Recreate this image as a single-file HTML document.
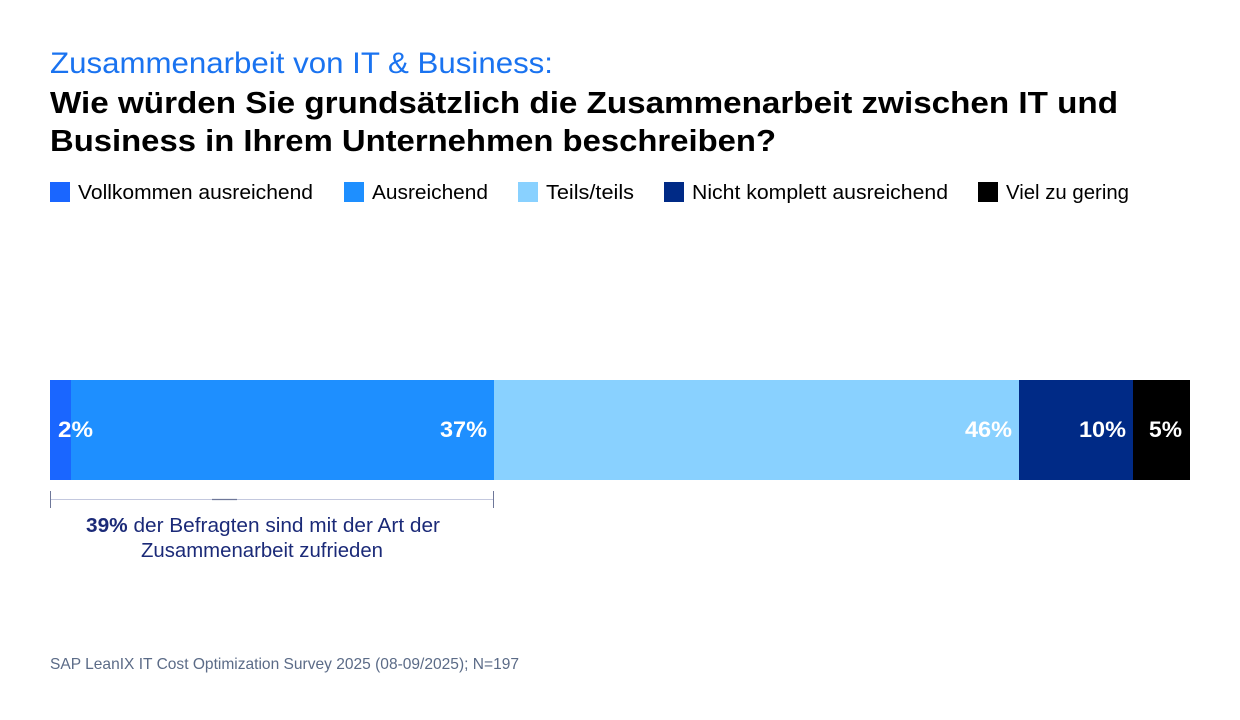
<!DOCTYPE html>
<html>
<head>
<meta charset="utf-8">
<style>
html,body{margin:0;padding:0;background:#fff;}
svg{display:block;}
text{font-family:"Liberation Sans", sans-serif;}
</style>
</head>
<body>
<svg width="1240" height="720" viewBox="0 0 1240 720" xmlns="http://www.w3.org/2000/svg">
<rect width="1240" height="720" fill="#ffffff"/>
<!-- Titles -->
<text x="50" y="73" font-size="30" fill="#1a73f0" textLength="503" lengthAdjust="spacingAndGlyphs">Zusammenarbeit von IT &amp; Business:</text>
<text x="50" y="113" font-size="31" font-weight="bold" fill="#000" textLength="1068" lengthAdjust="spacingAndGlyphs">Wie würden Sie grundsätzlich die Zusammenarbeit zwischen IT und</text>
<text x="50" y="151" font-size="31" font-weight="bold" fill="#000" textLength="726" lengthAdjust="spacingAndGlyphs">Business in Ihrem Unternehmen beschreiben?</text>

<!-- Legend -->
<rect x="50" y="182" width="20" height="20" fill="#1a66ff"/>
<text x="78" y="199" font-size="20" fill="#000" textLength="235" lengthAdjust="spacingAndGlyphs">Vollkommen ausreichend</text>
<rect x="344" y="182" width="20" height="20" fill="#1e8fff"/>
<text x="372" y="199" font-size="20" fill="#000" textLength="116" lengthAdjust="spacingAndGlyphs">Ausreichend</text>
<rect x="518" y="182" width="20" height="20" fill="#89d1ff"/>
<text x="546" y="199" font-size="20" fill="#000" textLength="88" lengthAdjust="spacingAndGlyphs">Teils/teils</text>
<rect x="664" y="182" width="20" height="20" fill="#002a86"/>
<text x="692" y="199" font-size="20" fill="#000" textLength="256" lengthAdjust="spacingAndGlyphs">Nicht komplett ausreichend</text>
<rect x="978" y="182" width="20" height="20" fill="#000000"/>
<text x="1006" y="199" font-size="20" fill="#000" textLength="123" lengthAdjust="spacingAndGlyphs">Viel zu gering</text>

<!-- Bar -->
<rect x="50" y="380" width="21" height="100" fill="#1a66ff"/>
<rect x="71" y="380" width="423" height="100" fill="#1e8fff"/>
<rect x="494" y="380" width="525" height="100" fill="#89d1ff"/>
<rect x="1019" y="380" width="114" height="100" fill="#002a86"/>
<rect x="1133" y="380" width="57" height="100" fill="#000000"/>

<!-- Bar labels -->
<g font-size="22" font-weight="bold" fill="#ffffff">
<text x="58" y="437" textLength="35" lengthAdjust="spacingAndGlyphs">2%</text>
<text x="440" y="437" textLength="47" lengthAdjust="spacingAndGlyphs">37%</text>
<text x="965" y="437" textLength="47" lengthAdjust="spacingAndGlyphs">46%</text>
<text x="1079" y="437" textLength="47" lengthAdjust="spacingAndGlyphs">10%</text>
<text x="1149" y="437" textLength="33" lengthAdjust="spacingAndGlyphs">5%</text>
</g>

<!-- Bracket -->
<line x1="50" y1="499.5" x2="494" y2="499.5" stroke="#c3c8de" stroke-width="1"/>
<line x1="212" y1="499.5" x2="237" y2="499.5" stroke="#6e7799" stroke-width="1.2"/>
<line x1="50.5" y1="491" x2="50.5" y2="508" stroke="#6e7799" stroke-width="1"/>
<line x1="493.5" y1="491" x2="493.5" y2="508" stroke="#6e7799" stroke-width="1"/>

<!-- Annotation -->
<text x="86" y="532" font-size="20" fill="#1b2a78" textLength="354" lengthAdjust="spacingAndGlyphs"><tspan font-weight="bold">39%</tspan> der Befragten sind mit der Art der</text>
<text x="141" y="557" font-size="20" fill="#1b2a78" textLength="242" lengthAdjust="spacingAndGlyphs">Zusammenarbeit zufrieden</text>

<!-- Footer -->
<text x="50" y="669" font-size="16" fill="#5b6b87" textLength="469" lengthAdjust="spacingAndGlyphs">SAP LeanIX IT Cost Optimization Survey 2025 (08-09/2025); N=197</text>
</svg>
</body>
</html>
